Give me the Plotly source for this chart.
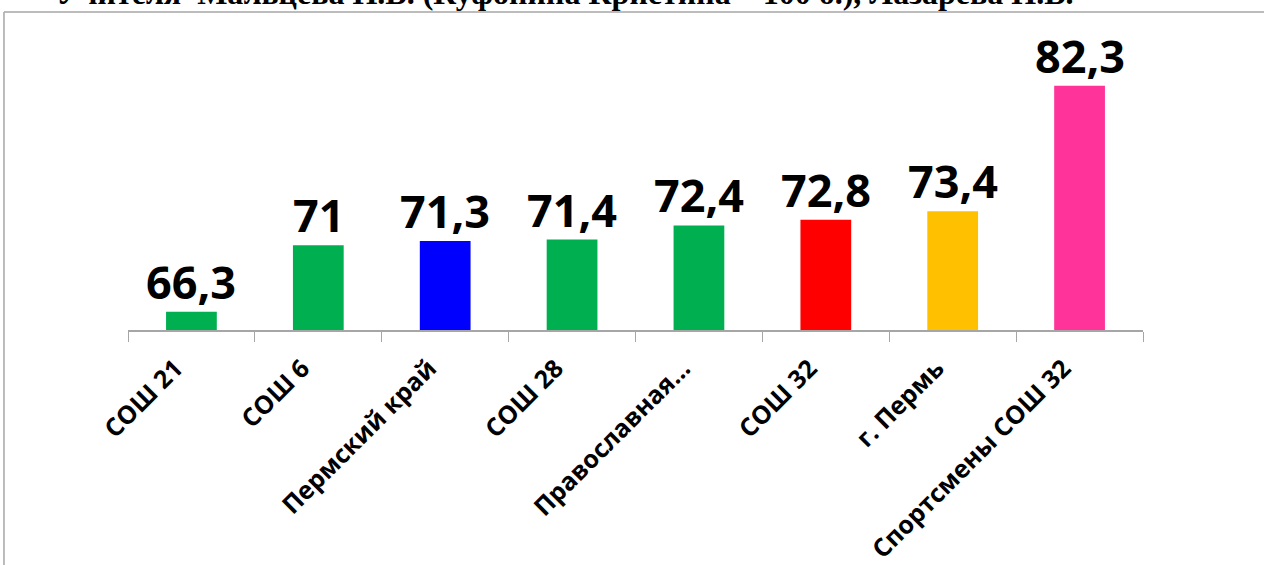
import plotly.graph_objects as go

categories = ["СОШ 21", "СОШ 6", "Пермский край", "СОШ 28", "Православная...",
              "СОШ 32", "г. Пермь", "Спортсмены СОШ 32"]
values = [66.3, 71, 71.3, 71.4, 72.4, 72.8, 73.4, 82.3]
labels = ["66,3", "71", "71,3", "71,4", "72,4", "72,8", "73,4", "82,3"]
colors = ["#00B050", "#00B050", "#0000FF", "#00B050", "#00B050",
          "#FF0000", "#FFC000", "#FF3399"]
title_text = "Учителя  Мальцева Н.В. (Куфонина Кристина – 100 б.), Лазарева Н.В."

fig = go.Figure(go.Bar(
    x=categories,
    y=values,
    marker=dict(color=colors, line=dict(width=0)),
    width=0.4,
    hoverinfo="x+y",
))

# value labels above the bars
for cat, val, lab in zip(categories, values, labels):
    fig.add_annotation(x=cat, y=val, text="<b>" + lab + "</b>", showarrow=False,
                       yanchor="bottom", yshift=-2,
                       font=dict(family="Open Sans", size=45, color="black"))

# gray frame of the chart box (top and left edges visible)
fig.add_shape(type="line", xref="paper", yref="paper",
              x0=-0.1222, x1=1.3, y0=1.0966, y1=1.0966,
              line=dict(color="#A6A6A6", width=1.5))
fig.add_shape(type="line", xref="paper", yref="paper",
              x0=-0.1222, x1=-0.1222, y0=1.0966, y1=-1,
              line=dict(color="#A6A6A6", width=1.5))

# title of the slide, cut off by the top edge
fig.add_annotation(text="<b>" + title_text + "</b>", xref="paper", yref="paper",
                   x=-0.073, y=1.0914, xanchor="left", yanchor="bottom",
                   showarrow=False,
                   font=dict(family="Liberation Serif", size=32, color="black"))

fig.update_layout(
    width=1264, height=565,
    margin=dict(l=128, r=121, t=40, b=235),
    paper_bgcolor="white", plot_bgcolor="white",
    showlegend=False,
)
fig.update_xaxes(
    automargin=False,
    showline=True, linecolor="#A6A6A6", linewidth=1.5,
    ticks="outside", tickson="boundaries", ticklen=10, tickcolor="#A6A6A6",
    tickangle=-45, ticklabelshift=-16, ticklabelstandoff=12,
    tickfont=dict(family="Open Sans", size=25, color="black", weight="bold"),
    showgrid=False,
)
fig.update_yaxes(range=[65, 85.53], visible=False)

fig.write_html("out.html", config={"displayModeBar": False},
               post_script="document.body.style.margin = '0';")
